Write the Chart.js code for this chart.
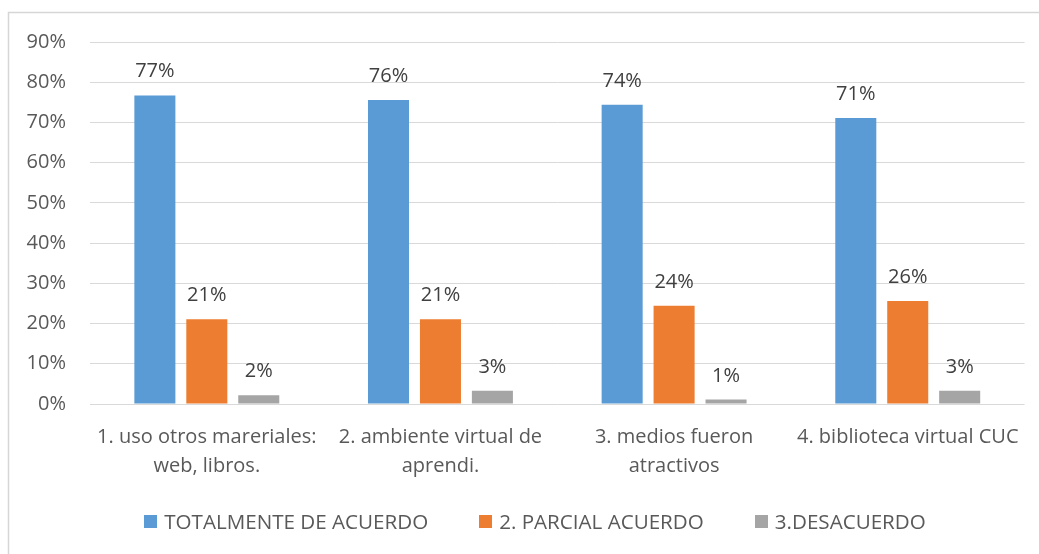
<!DOCTYPE html>
<html>
<head>
<meta charset="utf-8">
<script src="https://cdn.jsdelivr.net/npm/chart.js@4/dist/chart.umd.min.js"></script>
<style>
  html, body { margin: 0; padding: 0; background: #ffffff; }
  #wrap { position: relative; width: 1039px; height: 554px; }
</style>
</head>
<body>
<div id="wrap"><canvas id="c" width="1039" height="554"></canvas></div>
<script>
const categories = [
  ["1. uso otros mareriales:", "web, libros."],
  ["2. ambiente virtual de", "aprendi."],
  ["3. medios fueron", "atractivos"],
  ["4. biblioteca virtual CUC"]
];
const seriesNames = ["TOTALMENTE DE ACUERDO", "2. PARCIAL ACUERDO", "3.DESACUERDO"];
const totalmente = [76.7, 75.6, 74.4, 71.1];
const parcial = [21.1, 21.1, 24.4, 25.6];
const desacuerdo = [2.2, 3.3, 1.1, 3.3];
const yTicks = [0, 10, 20, 30, 40, 50, 60, 70, 80, 90];
const colors = ["#5B9BD5", "#ED7D31", "#A5A5A5"];

const FONT = "'Open Sans', 'Noto Sans', sans-serif";

const framePlugin = {
  id: 'frame',
  beforeDraw(chart) {
    const ctx = chart.ctx;
    ctx.save();
    ctx.fillStyle = '#ffffff';
    ctx.fillRect(0, 0, chart.width, chart.height);
    ctx.strokeStyle = '#D6D6D6';
    ctx.lineWidth = 1.5;
    ctx.beginPath();
    ctx.moveTo(chart.width, 12.5);
    ctx.lineTo(8.5, 12.5);
    ctx.lineTo(8.5, chart.height);
    ctx.stroke();
    ctx.restore();
  }
};

const valueLabels = {
  id: 'valueLabels',
  afterDatasetsDraw(chart) {
    const ctx = chart.ctx;
    ctx.save();
    ctx.font = "20px " + FONT;
    ctx.fillStyle = '#404040';
    ctx.textAlign = 'center';
    ctx.textBaseline = 'alphabetic';
    chart.data.datasets.forEach((ds, di) => {
      const meta = chart.getDatasetMeta(di);
      meta.data.forEach((el, i) => {
        ctx.fillText(Math.round(ds.data[i]) + '%', el.x, el.y - 18);
      });
    });
    ctx.restore();
  }
};

const customLegend = {
  id: 'customLegend',
  afterDraw(chart) {
    const ctx = chart.ctx;
    ctx.save();
    ctx.font = "20.6px " + FONT;
    const box = 13, gapText = 7, gapItem = 51;
    const items = chart.data.datasets.map(ds => ({ text: ds.label, color: ds.backgroundColor, w: ctx.measureText(ds.label).width }));
    let total = 0;
    items.forEach((it, i) => { total += box + gapText + it.w + (i < items.length - 1 ? gapItem : 0); });
    let x = 535 - total / 2;
    const cy = 522;
    ctx.textBaseline = 'middle';
    ctx.textAlign = 'left';
    items.forEach(it => {
      ctx.fillStyle = it.color;
      ctx.fillRect(Math.round(x), cy - 7, box, box);
      ctx.fillStyle = '#595959';
      ctx.fillText(it.text, x + box + gapText, cy + 1);
      x += box + gapText + it.w + gapItem;
    });
    ctx.restore();
  }
};

const seriesData = [totalmente, parcial, desacuerdo];

new Chart(document.getElementById('c'), {
  type: 'bar',
  data: {
    labels: categories,
    datasets: seriesNames.map((name, i) => ({
      label: name,
      data: seriesData[i],
      backgroundColor: colors[i],
      borderWidth: 0,
      categoryPercentage: 0.667,
      barPercentage: 0.79
    }))
  },
  options: {
    responsive: false,
    animation: false,
    devicePixelRatio: 1,
    layout: { padding: { left: 0, right: 12, top: 42, bottom: 70 } },
    plugins: {
      legend: { display: false },
      tooltip: { enabled: false }
    },
    scales: {
      x: {
        grid: { display: false, drawTicks: false },
        border: { display: false },
        ticks: {
          color: '#595959',
          font: { family: FONT, size: 20, lineHeight: 1.45 },
          padding: 19,
          maxRotation: 0,
          autoSkip: false
        },
        afterFit(axis) { axis.height = 80; }
      },
      y: {
        min: 0,
        max: 90,
        afterBuildTicks(axis) { axis.ticks = yTicks.map(v => ({ value: v })); },
        grid: { color: '#D9D9D9', lineWidth: 1, drawTicks: false },
        border: { display: false },
        ticks: {
          color: '#595959',
          font: { family: FONT, size: 20 },
          padding: 24,
          callback: v => v + '%'
        },
        afterFit(axis) { axis.width = 90; }
      }
    }
  },
  plugins: [framePlugin, valueLabels, customLegend]
});
</script>
</body>
</html>
